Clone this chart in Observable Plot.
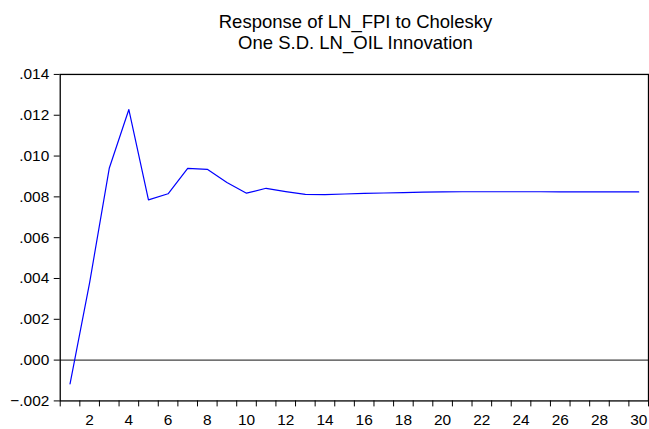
<!DOCTYPE html>
<html>
<head>
<meta charset="utf-8">
<script src="https://cdn.jsdelivr.net/npm/d3@7"></script>
<script src="https://cdn.jsdelivr.net/npm/@observablehq/plot@0.6"></script>
<style>
  html, body { margin: 0; padding: 0; background: #fff; overflow: hidden; width: 649px; height: 429px; }
  #title { position: absolute; left: 0; top: 11px; width: 711px; text-align: center;
           font-family: "Liberation Sans", Arial, sans-serif; font-size: 18.5px; line-height: 21px; color: #000; }
  #chart { position: absolute; left: 0; top: 60px; }
</style>
</head>
<body>
<div id="title">Response of LN_FPI to Cholesky<br>One S.D. LN_OIL Innovation</div>
<div id="chart"></div>
<script>
const titleLines = ["Response of LN_FPI to Cholesky", "One S.D. LN_OIL Innovation"];
const periods = d3.range(1, 31);
const response = [
  -0.00117, 0.0038, 0.0094, 0.01228, 0.00785, 0.00815, 0.0094, 0.00935, 0.0087, 0.00818,
  0.00842, 0.00826, 0.00812, 0.00811, 0.00814, 0.00817, 0.00819, 0.00821, 0.00823, 0.00824,
  0.00825, 0.00825, 0.00825, 0.00825, 0.00825, 0.00824, 0.00824, 0.00824, 0.00824, 0.00824
];
const yTicks = [-0.002, 0.000, 0.002, 0.004, 0.006, 0.008, 0.010, 0.012, 0.014];
const xTickLabels = [2, 4, 6, 8, 10, 12, 14, 16, 18, 20, 22, 24, 26, 28, 30];
const xTickMarks = d3.range(0.5, 31, 1);

const data = periods.map((p, i) => ({period: p, value: response[i]}));
const fmt = d => d3.format(".3f")(d).replace("0.", ".");

const chart = Plot.plot({
  width: 652,
  height: 369,
  marginLeft: 60,
  marginRight: 1,
  marginTop: 14,
  marginBottom: 27,
  style: {fontFamily: "'Liberation Sans', Arial, sans-serif", fontSize: "15.5px", color: "#000", background: "#fff"},
  x: {domain: [0.5, 30.5]},
  y: {domain: [-0.002, 0.014]},
  marks: [
    Plot.ruleY([0], {stroke: "#111", strokeWidth: 1}),
    Plot.line(data, {x: "period", y: "value", stroke: "#0000ff", strokeWidth: 1.2}),
    Plot.frame({stroke: "#000", strokeWidth: 1.3}),
    Plot.axisY({ticks: yTicks, tickFormat: fmt, tickSize: 6, tickPadding: 5, label: null, stroke: "#000"}),
    Plot.axisX({ticks: xTickMarks, tickFormat: () => "", tickSize: 6, label: null, stroke: "#000"}),
    Plot.axisX({ticks: xTickLabels, tickSize: 0, tickPadding: 13, label: null})
  ]
});
document.getElementById("chart").appendChild(chart);
</script>
</body>
</html>
